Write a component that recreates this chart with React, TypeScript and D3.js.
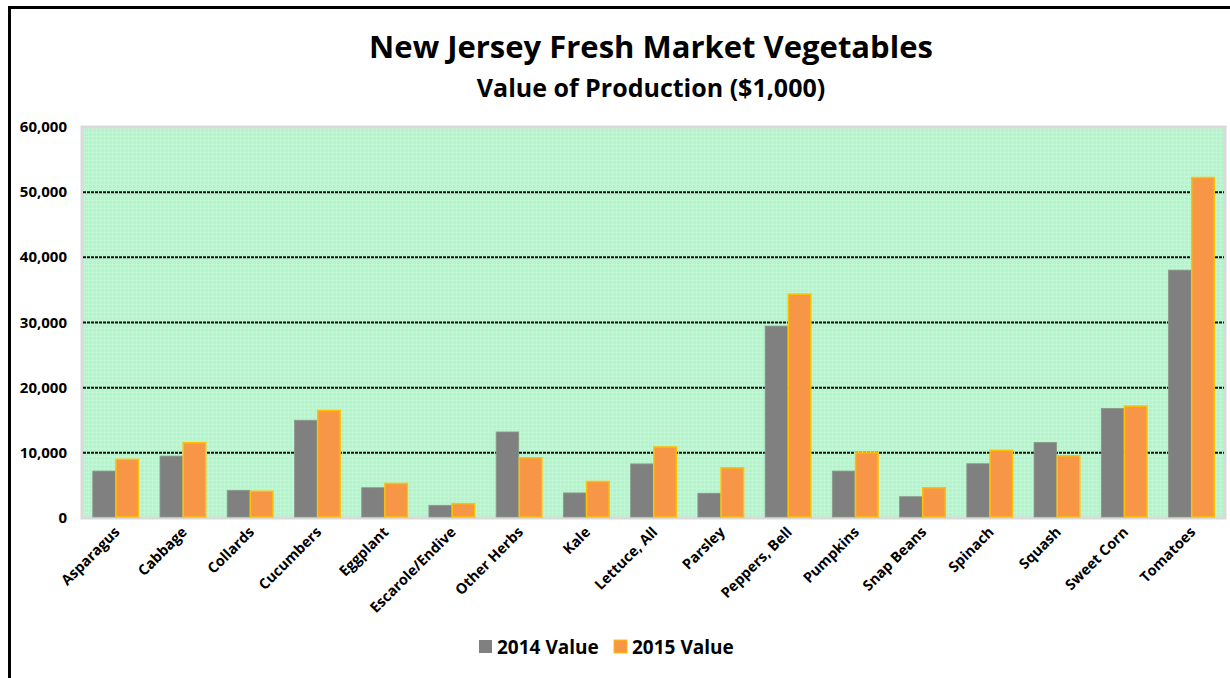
import React from "react";
import * as d3 from "d3";

const categories = ["Asparagus","Cabbage","Collards","Cucumbers","Eggplant","Escarole/Endive","Other Herbs","Kale","Lettuce, All","Parsley","Peppers, Bell","Pumpkins","Snap Beans","Spinach","Squash","Sweet Corn","Tomatoes"];
const values2014 = [7200,9500,4250,15000,4650,1950,13200,3850,8300,3800,29450,7200,3270,8330,11600,16820,38040];
const values2015 = [9000,11550,4100,16500,5300,2200,9250,5600,10900,7700,34350,10000,4650,10380,9550,17180,52250];
const yTicks = [0,10000,20000,30000,40000,50000,60000];
const seriesNames = ["2014 Value","2015 Value"];

const W = 1230, H = 678;
const plot = { left: 82, right: 1225, top: 127, bottom: 518 };
const FONT = "'Open Sans', 'Noto Sans', sans-serif";

export default function App() {
  const x = d3.scaleBand<string>().domain(categories).range([plot.left, plot.right]).paddingInner(0.32).paddingOuter(0.16);
  const x1 = d3.scaleBand<string>().domain(seriesNames).range([0, x.bandwidth()]).paddingInner(0.03);
  const y = d3.scaleLinear().domain([0, 60000]).range([plot.bottom, plot.top]);
  const fmt = d3.format(",");
  const series = [values2014, values2015];
  const fills = ["#808080", "#f79646"];
  const strokes = ["#8a9a8a", "#ffc000"];

  return (
    <svg width={W} height={H} style={{ position: "absolute", left: 0, top: 0, display: "block" }}>
      <defs>
        <pattern id="grid" width="4" height="4" patternUnits="userSpaceOnUse">
          <rect width="4" height="4" fill="#b2f5ca" />
          <rect width="4" height="1" fill="#c2f7d5" />
          <rect width="1" height="4" fill="#c2f7d5" />
        </pattern>
      </defs>
      <rect x={0} y={0} width={W} height={H} fill="#fff" />
      <rect x={9.5} y={7.5} width={W + 20} height={H + 20} fill="none" stroke="#000" strokeWidth={3} />
      <text x={651} y={58} textAnchor="middle" fontFamily={FONT} fontWeight={700} fontSize={31} fill="#000">New Jersey Fresh Market Vegetables</text>
      <text x={651} y={97} textAnchor="middle" fontFamily={FONT} fontWeight={700} fontSize={25} fill="#000">Value of Production ($1,000)</text>

      <rect x={plot.left} y={plot.top} width={plot.right - plot.left} height={plot.bottom - plot.top} fill="url(#grid)" stroke="#d9d9d9" strokeWidth={3} />
      {yTicks.filter(t => t > 0 && t < 60000).map(t => (
        <line key={t} x1={plot.left + 1} x2={plot.right - 1} y1={y(t)} y2={y(t)} stroke="#111" strokeWidth={2} strokeDasharray="3 1" />
      ))}
      {yTicks.map(t => (
        <text key={"l" + t} x={67} y={y(t) + 5} textAnchor="end" fontFamily={FONT} fontWeight={700} fontSize={15} fill="#000">{fmt(t)}</text>
      ))}

      {categories.map((c, i) => (
        <g key={c} transform={`translate(${x(c)},0)`}>
          {series.map((s, j) => (
            <rect key={j} x={(x1(seriesNames[j]) as number)} y={y(s[i])} width={x1.bandwidth()} height={plot.bottom - 1 - y(s[i])}
              fill={fills[j]} stroke={strokes[j]} strokeWidth={j === 1 ? 1.5 : 0.8} />
          ))}
        </g>
      ))}

      {categories.map(c => {
        const cx = (x(c) as number) + x.bandwidth() / 2 + 5;
        return (
          <text key={"x" + c} transform={`translate(${cx},${533}) rotate(-45)`} textAnchor="end" fontFamily={FONT} fontWeight={700} fontSize={14.5} fill="#000">{c}</text>
        );
      })}

      <g transform="translate(479,640)">
        <rect x={0} y={0} width={13} height={13} fill={fills[0]} />
        <text x={18} y={14} fontFamily={FONT} fontWeight={700} fontSize={19} fill="#000">{seriesNames[0]}</text>
        <rect x={135} y={0} width={13} height={13} fill={fills[1]} stroke={strokes[1]} strokeWidth={1} />
        <text x={153} y={14} fontFamily={FONT} fontWeight={700} fontSize={19} fill="#000">{seriesNames[1]}</text>
      </g>
    </svg>
  );
}
